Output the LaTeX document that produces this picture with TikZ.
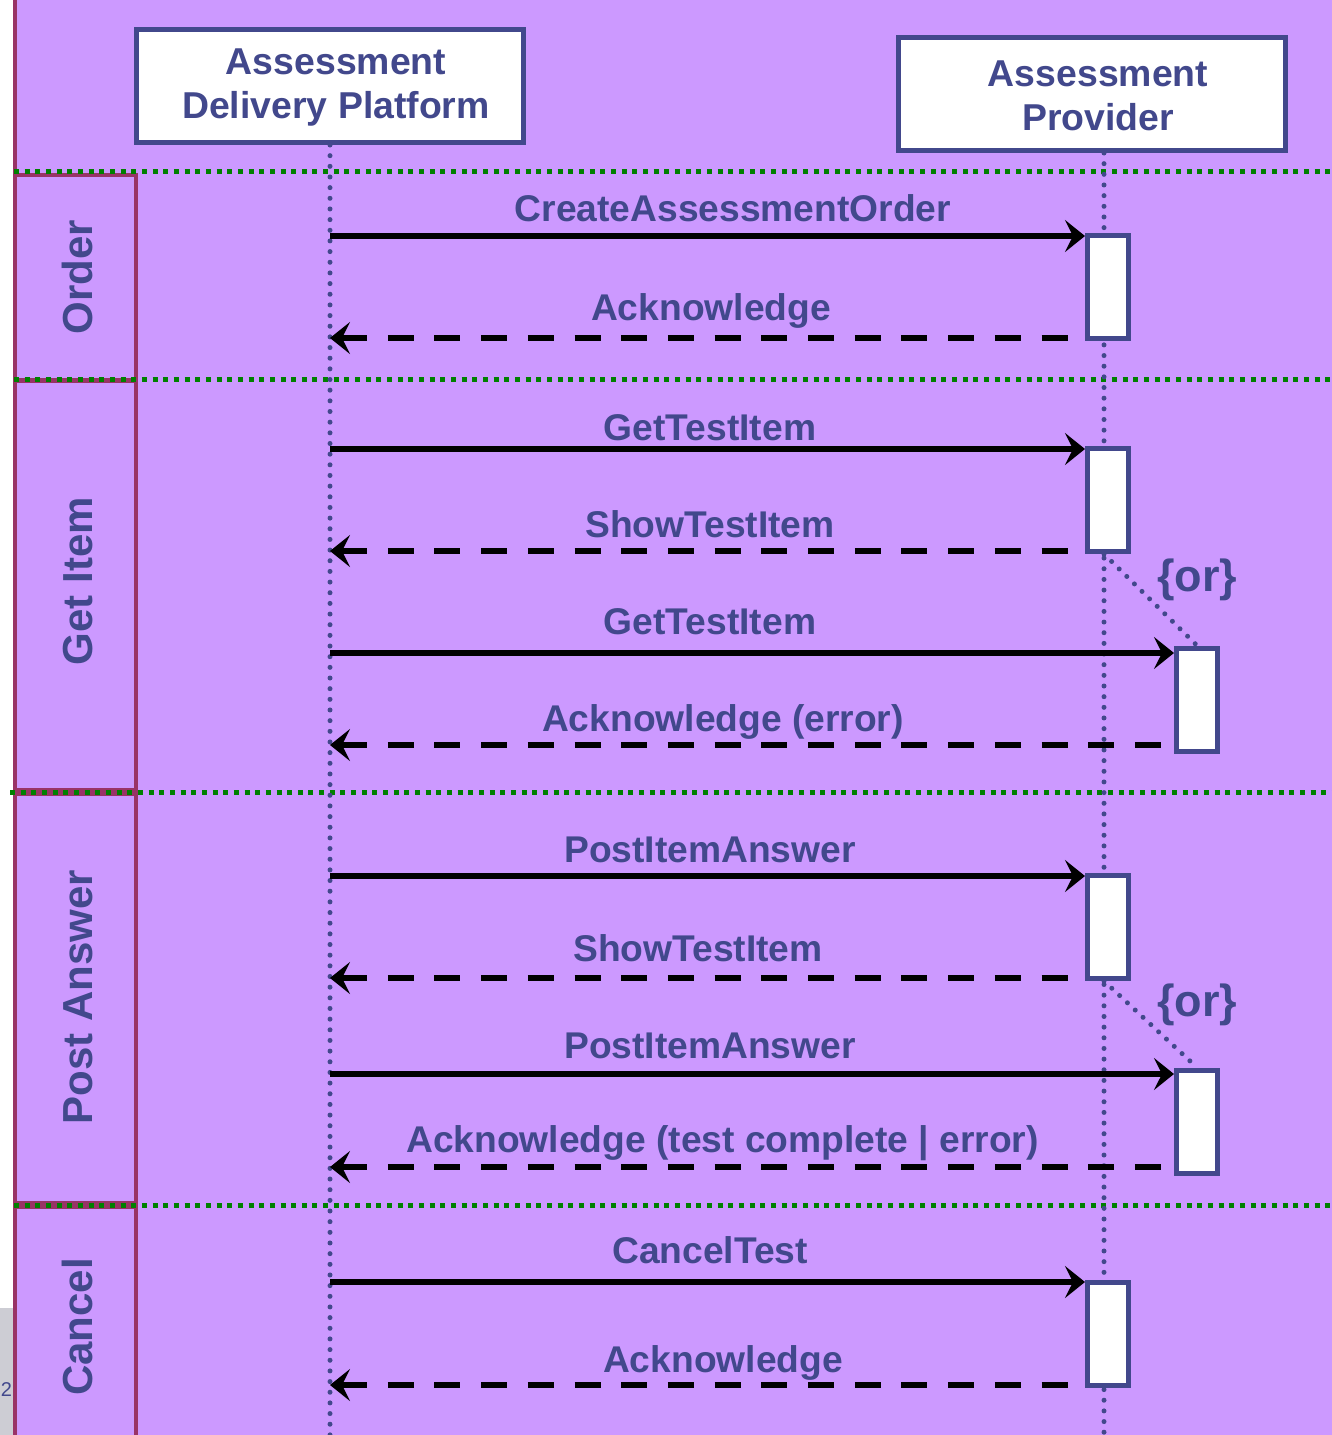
\documentclass[tikz,border=0pt]{standalone}
\usepackage{fontspec}
\setmainfont{Liberation Sans}
\usetikzlibrary{arrows.meta}
\definecolor{bgpurple}{RGB}{204,153,255}
\definecolor{navy}{RGB}{66,72,140}
\definecolor{crimson}{RGB}{153,51,102}
\definecolor{grn}{RGB}{0,128,0}
\definecolor{scrollgray}{RGB}{205,205,212}
\begin{document}
\begin{tikzpicture}[x=0.5pt,y=-0.5pt,
  actorbox/.style={draw=navy,line width=2.5pt,fill=white,minimum width=193.5pt,minimum height=56.5pt,inner sep=0pt},
  actortext/.style={text=navy,align=center,inner sep=0pt,font=\fontsize{18.7}{22}\selectfont\bfseries},
  lifeline/.style={draw=navy,line width=2.5pt,line cap=round,dash pattern=on 0pt off 5.33pt},
  sepline/.style={draw=grn,line width=2.5pt,dash pattern=on 2.5pt off 2.83pt},
  lanebox/.style={draw=crimson,line width=2pt},
  lanelabel/.style={text=navy,rotate=90,anchor=base,inner sep=0pt,font=\fontsize{21}{24}\selectfont\bfseries},
  actbox/.style={draw=navy,line width=2.5pt,fill=white,minimum width=20.5pt,minimum height=51.5pt,inner sep=0pt},
  call/.style={draw=black,line width=2.75pt,-{Stealth[length=10pt,width=16pt,inset=4pt]}},
  reply/.style={draw=black,line width=2.75pt,dash pattern=on 13pt off 10.35pt,{Stealth[length=10pt,width=16pt,inset=4pt]}-},
  msglabel/.style={text=navy,anchor=base,inner sep=0pt,font=\fontsize{18.6}{22}\selectfont\bfseries},
  orlabel/.style={text=navy,inner sep=0pt,font=\fontsize{22.5}{26}\selectfont\bfseries},
  ordots/.style={draw=navy,line width=2.5pt,line cap=round,dash pattern=on 0pt off 5.33pt}
]
\useasboundingbox (0,0) rectangle (1332,1435);
% background
\fill[white] (0,0) rectangle (13,1435);
\fill[scrollgray] (0,1308) rectangle (13,1435);
\fill[bgpurple] (13,0) rectangle (1332,1435);
\node[anchor=base east,text=navy,inner sep=0pt,font=\fontsize{10}{12}\selectfont] (pagenum) at (12.5,1396) {2};

% lanes
\draw[lanebox] (15,-5) -- (15,1440);
\draw[lanebox] (15,175) rectangle (136,380);
\draw[lanebox] (15,381) rectangle (136,790);
\draw[lanebox] (15,794) rectangle (136,1203);
\draw[lanebox] (15,1207) rectangle (136,1445);
\node[lanelabel] (lOrder) at (92,277) {Order};
\node[lanelabel] (lGet) at (92,581) {Get Item};
\node[lanelabel] (lPost) at (92,997) {Post Answer};
\node[lanelabel] (lCancel) at (92,1327) {Cancel};

% separators
\draw[sepline] (14,171) -- (1332,171);
\draw[sepline] (14,379) -- (1332,379);
\draw[sepline] (10,792) -- (1332,792);
\draw[sepline] (14,1205) -- (1332,1205);

% actors
\node[actorbox] (ADP) at (330,86) {};
\node[actortext] (ADPt) at (336,88) {Assessment\\Delivery Platform};
\node[actorbox] (AP) at (1092,94) {};
\node[actortext] (APt) at (1098,96) {Assessment\\Provider};

% lifelines
\coordinate (aEnd) at (330,1440);
\coordinate (pTop) at (1104,153);
\coordinate (pEnd) at (1104,1440);
\draw[lifeline] (ADP.south) -- (aEnd);
\draw[lifeline] (pTop) -- (pEnd);

% activation boxes
\node[actbox] (act1) at (1108,287) {};
\node[actbox] (act2) at (1108,500) {};
\node[actbox] (act3) at (1197,699.5) {};
\node[actbox] (act4) at (1108,927) {};
\node[actbox] (act5) at (1197,1121.5) {};
\node[actbox] (act6) at (1108,1333.5) {};

% {or} links
\draw[ordots] (act2.south -| pTop) -- (act3.north);
\draw[ordots] (act4.south -| pTop) -- (act5.north);
\node[orlabel] (or1) at (1197,580) {\{or\}};
\node[orlabel] (or2) at (1197,1005) {\{or\}};

% messages
\coordinate (m1) at (330,236);
\coordinate (r1) at (330,338);
\coordinate (m2) at (330,449);
\coordinate (r2) at (330,551);
\coordinate (m3) at (330,653);
\coordinate (r3) at (330,745);
\coordinate (m4) at (330,876);
\coordinate (r4) at (330,978);
\coordinate (m5) at (330,1074);
\coordinate (r5) at (330,1167);
\coordinate (m6) at (330,1282);
\coordinate (r6) at (330,1385);

\draw[call] (m1) -- (m1 -| act1.west);
\draw[reply] (r1) -- (r1 -| act1.west);
\draw[call] (m2) -- (m2 -| act2.west);
\draw[reply] (r2) -- (r2 -| act2.west);
\draw[call] (m3) -- (m3 -| act3.west);
\draw[reply] (r3) -- (r3 -| act3.west);
\draw[call] (m4) -- (m4 -| act4.west);
\draw[reply] (r4) -- (r4 -| act4.west);
\draw[call] (m5) -- (m5 -| act5.west);
\draw[reply] (r5) -- (r5 -| act5.west);
\draw[call] (m6) -- (m6 -| act6.west);
\draw[reply] (r6) -- (r6 -| act6.west);

\node[msglabel] (t1) at (733,221) {CreateAssessmentOrder};
\node[msglabel] (t2) at (711,320) {Acknowledge};
\node[msglabel] (t3) at (710,440) {GetTestItem};
\node[msglabel] (t4) at (710,537) {ShowTestItem};
\node[msglabel] (t5) at (710,634) {GetTestItem};
\node[msglabel] (t6) at (723,731) {Acknowledge (error)};
\node[msglabel] (t7) at (710,862) {PostItemAnswer};
\node[msglabel] (t8) at (698,961) {ShowTestItem};
\node[msglabel] (t9) at (710,1058) {PostItemAnswer};
\node[msglabel] (t10) at (722.5,1152) {Acknowledge (test complete | error)};
\node[msglabel] (t11) at (710,1263) {CancelTest};
\node[msglabel] (t12) at (723,1372) {Acknowledge};
\end{tikzpicture}
\end{document}
